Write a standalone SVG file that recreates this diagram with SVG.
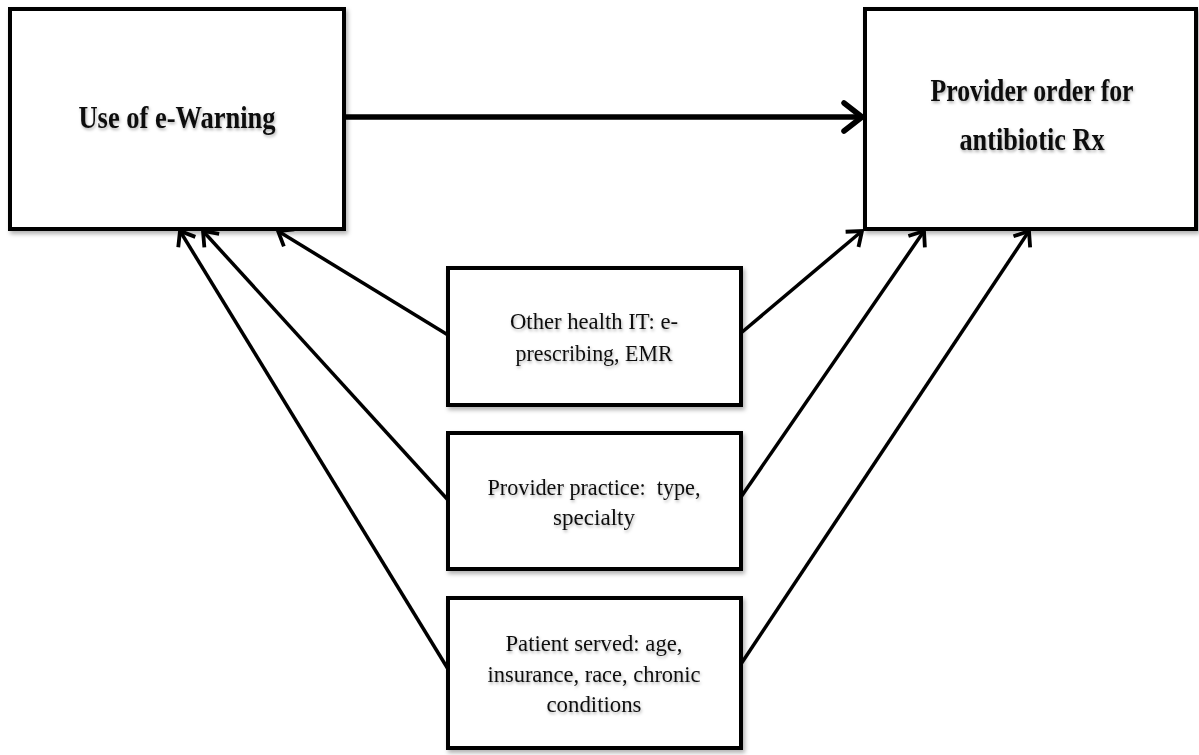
<svg xmlns="http://www.w3.org/2000/svg" width="1199" height="755" viewBox="0 0 1199 755">
<style>
.box{fill:#fff;stroke:#000;stroke-width:4}
.title{font-family:"Liberation Serif","Times New Roman",serif;font-weight:bold;font-size:32px;fill:#111;text-anchor:middle}
.lbl{font-family:"Liberation Serif","Times New Roman",serif;font-size:23px;fill:#111;text-anchor:middle;white-space:pre}
.conn{stroke:#000;stroke-width:3.5;fill:none;marker-end:url(#ah)}
.main{stroke:#000;stroke-width:5.5;fill:none;marker-end:url(#ahBig)}
</style>
<defs>
<filter id="sh" x="-10%" y="-10%" width="130%" height="130%">
<feDropShadow dx="2" dy="3" stdDeviation="2" flood-color="#000" flood-opacity="0.3"/>
</filter>
<filter id="tsh" x="-10%" y="-30%" width="130%" height="170%">
<feDropShadow dx="1" dy="2" stdDeviation="1.5" flood-color="#000" flood-opacity="0.3"/>
</filter>
<marker id="ah" markerUnits="userSpaceOnUse" markerWidth="20" markerHeight="24" refX="15" refY="12" orient="auto">
<path d="M2,2 L15,12 L2,22" fill="none" stroke="#000" stroke-width="3.8" stroke-linejoin="miter"/>
</marker>
<marker id="ahBig" markerUnits="userSpaceOnUse" markerWidth="28" markerHeight="34" refX="22" refY="17" orient="auto">
<path d="M4,3 L22,17 L4,31" fill="none" stroke="#000" stroke-width="5.5" stroke-linecap="round" stroke-linejoin="round"/>
</marker>
</defs>
<rect width="1199" height="755" fill="#fff"/>

<g id="connectors">
<line class="main" x1="346" y1="117" x2="862" y2="117"/>
<line class="conn" x1="448" y1="335" x2="278" y2="231"/>
<line class="conn" x1="448" y1="500" x2="203" y2="231"/>
<line class="conn" x1="448" y1="669" x2="180" y2="231"/>
<line class="conn" x1="741" y1="333" x2="862" y2="231"/>
<line class="conn" x1="741" y1="497" x2="924" y2="231"/>
<line class="conn" x1="741" y1="664" x2="1029" y2="231"/>
</g>

<g id="use-ewarning">
<rect class="box" x="10" y="9" width="334" height="220" filter="url(#sh)"/>
<text class="title" x="177" y="128" textLength="197" lengthAdjust="spacingAndGlyphs" filter="url(#tsh)">Use of e-Warning</text>
</g>

<g id="provider-order">
<rect class="box" x="865" y="9" width="331" height="220" filter="url(#sh)"/>
<text class="title" x="1032" y="101" textLength="203" lengthAdjust="spacingAndGlyphs" filter="url(#tsh)">Provider order for</text>
<text class="title" x="1032" y="150" textLength="145" lengthAdjust="spacingAndGlyphs" filter="url(#tsh)">antibiotic Rx</text>
</g>

<g id="other-health-it">
<rect class="box" x="448" y="268" width="293" height="137" filter="url(#sh)"/>
<text class="lbl" x="594" y="329" textLength="168" lengthAdjust="spacingAndGlyphs" filter="url(#tsh)">Other health IT: e-</text>
<text class="lbl" x="594" y="361" textLength="157" lengthAdjust="spacingAndGlyphs" filter="url(#tsh)">prescribing, EMR</text>
</g>

<g id="provider-practice">
<rect class="box" x="448" y="433" width="293" height="136" filter="url(#sh)"/>
<text class="lbl" x="594" y="495" textLength="213" lengthAdjust="spacingAndGlyphs" filter="url(#tsh)">Provider practice:  type,</text>
<text class="lbl" x="594" y="525" textLength="82" lengthAdjust="spacingAndGlyphs" filter="url(#tsh)">specialty</text>
</g>

<g id="patient-served">
<rect class="box" x="448" y="598" width="293" height="150" filter="url(#sh)"/>
<text class="lbl" x="594" y="651" textLength="177" lengthAdjust="spacingAndGlyphs" filter="url(#tsh)">Patient served: age,</text>
<text class="lbl" x="594" y="682" textLength="213" lengthAdjust="spacingAndGlyphs" filter="url(#tsh)">insurance, race, chronic</text>
<text class="lbl" x="594" y="712" textLength="95" lengthAdjust="spacingAndGlyphs" filter="url(#tsh)">conditions</text>
</g>
</svg>
